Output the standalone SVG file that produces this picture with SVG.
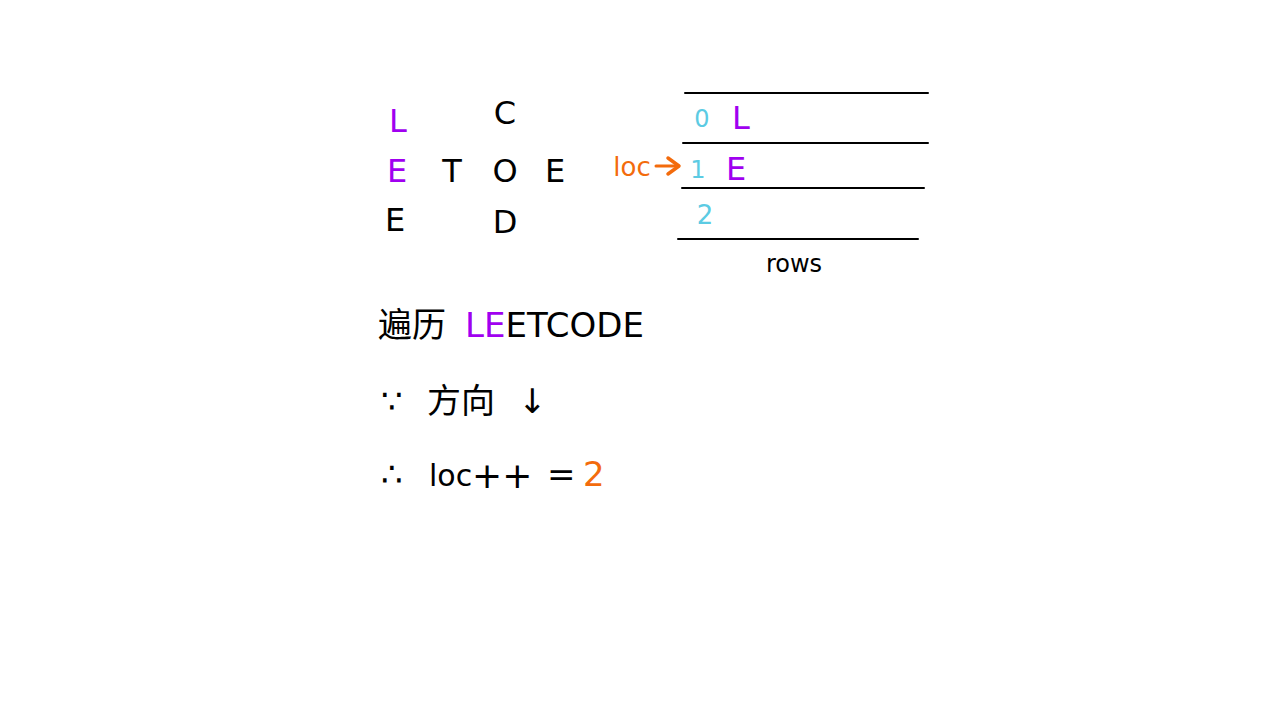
<svg xmlns="http://www.w3.org/2000/svg" width="1280" height="720" viewBox="0 0 1280 720">
<style>
text{font-family:"DejaVu Sans","Noto Sans CJK SC",sans-serif;text-anchor:middle}
.b{fill:#000}
.p{fill:#a000f0}
.c{fill:#5ccbe3}
.o{fill:#f36b0c}
.g{font-size:32px}
.s{text-anchor:start}
.ln{stroke:#000;stroke-width:2;stroke-linecap:round}
</style>
<rect width="1280" height="720" fill="#fff"/>
<g id="grid" class="g">
<text x="398" y="132" class="p">L</text>
<text x="397" y="182" class="p">E</text>
<text x="395" y="231" class="b">E</text>
<text x="452" y="182" class="b">T</text>
<text x="505" y="124" class="b">C</text>
<text x="505" y="182" class="b">O</text>
<text x="505" y="233" class="b">D</text>
<text x="555" y="182" class="b">E</text>
</g>
<g id="rows">
<line class="ln" x1="685" y1="93" x2="928" y2="93"/>
<line class="ln" x1="683" y1="143" x2="928" y2="143"/>
<line class="ln" x1="682" y1="188" x2="924" y2="188"/>
<line class="ln" x1="678" y1="239" x2="918" y2="239"/>
<text x="702" y="127" class="c" font-size="24">0</text>
<text x="741" y="129" class="p" font-size="32">L</text>
<text x="698" y="178" class="c" font-size="24">1</text>
<text x="736" y="180" class="p" font-size="32">E</text>
<text x="705" y="224" class="c" font-size="26">2</text>
<text x="794" y="272" class="b" font-size="24">rows</text>
</g>
<g id="loc">
<text x="632" y="176" class="o" font-size="26">loc</text>
<line x1="656" y1="166" x2="676" y2="166" stroke="#f36b0c" stroke-width="3" stroke-linecap="round"/>
<path d="M668,158 L679,166 L668,174" fill="none" stroke="#f36b0c" stroke-width="3.5" stroke-linecap="round" stroke-linejoin="round"/>
</g>
<g id="notes" font-size="34">
<text x="378" y="337" class="b s">遍历</text>
<text x="465" y="337" class="b s"><tspan class="p">LE</tspan>ETCODE</text>
<text x="381" y="413" class="b s">∵</text>
<text x="427" y="413" class="b s">方向</text>
<text x="518" y="413" class="b s">↓</text>
<text x="381" y="486" class="b s">∴</text>
<text x="429" y="486" class="b s" font-size="30">loc</text>
<text x="472" y="488" class="b s" font-size="36">++</text>
<text x="547" y="486" class="b s">=</text>
<text x="583" y="486" class="o s">2</text>
</g>
</svg>
